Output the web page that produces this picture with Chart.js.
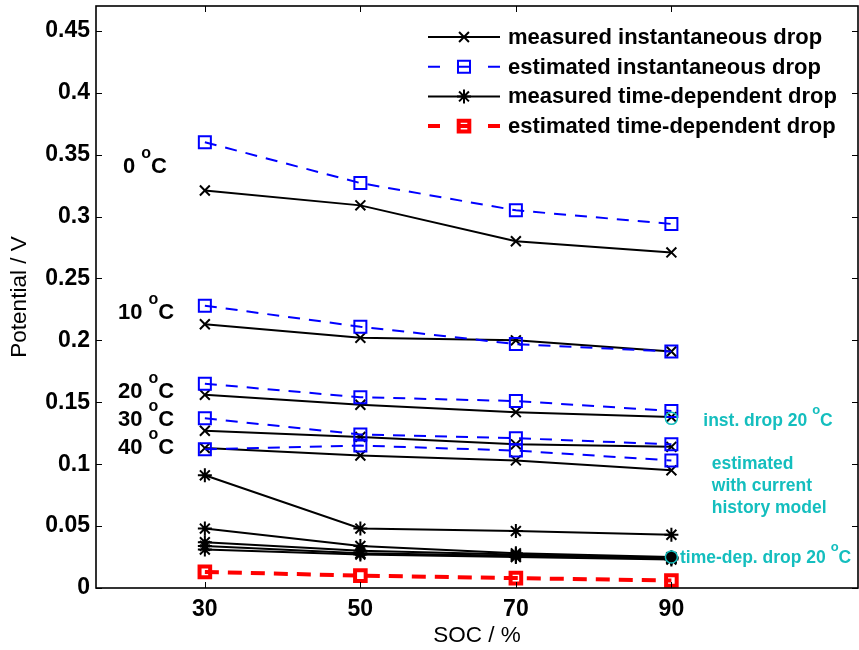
<!DOCTYPE html>
<html>
<head>
<meta charset="utf-8">
<script src="https://cdn.jsdelivr.net/npm/chart.js@4/dist/chart.umd.min.js"></script>
<style>
html,body{margin:0;padding:0;background:#fff;}
#wrap{width:859px;height:650px;}
</style>
</head>
<body>
<div id="wrap"><canvas id="c" width="859" height="650"></canvas></div>
<script>
// ---------------- data ----------------
const socValues = [30, 50, 70, 90];
const xTickLabels = ['30', '50', '70', '90'];
const yTickValues = [0, 0.05, 0.1, 0.15, 0.2, 0.25, 0.3, 0.35, 0.4, 0.45];
const yTickLabels = ['0', '0.05', '0.1', '0.15', '0.2', '0.25', '0.3', '0.35', '0.4', '0.45'];
const temperatureLabels = ['0', '10', '20', '30', '40'];

// measured instantaneous drop (V)
const measInst0  = [0.321, 0.309, 0.280, 0.271];
const measInst10 = [0.213, 0.202, 0.200, 0.191];
const measInst20 = [0.156, 0.148, 0.142, 0.138];
const measInst30 = [0.127, 0.122, 0.116, 0.114];
const measInst40 = [0.113, 0.107, 0.103, 0.095];

// estimated instantaneous drop (V)
const estInst0  = [0.360, 0.327, 0.305, 0.294];
const estInst10 = [0.228, 0.211, 0.197, 0.191];
const estInst20 = [0.165, 0.154, 0.151, 0.143];
const estInst30 = [0.137, 0.124, 0.121, 0.116];
const estInst40 = [0.112, 0.115, 0.111, 0.103];

// measured time-dependent drop (V)
const measTd0  = [0.091, 0.048, 0.046, 0.043];
const measTd10 = [0.048, 0.034, 0.028, 0.025];
const measTd20 = [0.037, 0.030, 0.027, 0.024];
const measTd30 = [0.034, 0.028, 0.026, 0.024];
const measTd40 = [0.031, 0.027, 0.025, 0.023];

// estimated time-dependent drop (V)
const estTd20 = [0.013, 0.010, 0.008, 0.006];

// highlighted points (current history model, 20 °C)
const highlightInstSoc = [90];
const highlightInstVal = [0.137];
const highlightTdSoc = [90];
const highlightTdVal = [0.025];

const legendLabels = [
  'measured instantaneous drop',
  'estimated instantaneous drop',
  'measured time-dependent drop',
  'estimated time-dependent drop'
];
const noteInst = 'inst. drop 20';
const noteModel = ['estimated', 'with current', 'history model'];
const noteTd = 'time-dep. drop 20';

// ---------------- styling ----------------
const FONT = '"Liberation Sans", Arial, Helvetica, sans-serif';
const BLUE = '#0000ff';
const RED = '#ff0000';
const CYAN = '#14bebe';
Chart.defaults.font.family = FONT;
Chart.defaults.color = '#000';

function pts(xs, ys) { return xs.map((x, i) => ({x: x, y: ys[i]})); }

const measInstStyle = {borderColor: '#000', backgroundColor: '#000', borderWidth: 2,
  pointStyle: 'crossRot', pointRadius: 7, pointBorderWidth: 2, pointBorderColor: '#000',
  pointBackgroundColor: 'rgba(0,0,0,0)', order: 4};
const estInstStyle = {borderColor: BLUE, backgroundColor: BLUE, borderWidth: 2, borderDash: [12, 9],
  pointStyle: 'rect', pointRadius: 8.5, pointBorderWidth: 2, pointBorderColor: BLUE,
  pointBackgroundColor: 'rgba(0,0,0,0)', order: 3};
const measTdStyle = {borderColor: '#000', backgroundColor: '#000', borderWidth: 2,
  pointStyle: 'star', pointRadius: 7, pointBorderWidth: 2, pointBorderColor: '#000',
  pointBackgroundColor: 'rgba(0,0,0,0)', order: 2};
const estTdStyle = {borderColor: RED, backgroundColor: RED, borderWidth: 4, borderDash: [14, 9],
  pointStyle: 'rect', pointRadius: 7.5, pointBorderWidth: 4, pointBorderColor: RED,
  pointBackgroundColor: 'rgba(0,0,0,0)', order: 1};

const datasets = [];
const groups = [
  {label: legendLabels[0], style: measInstStyle, series: [measInst0, measInst10, measInst20, measInst30, measInst40]},
  {label: legendLabels[1], style: estInstStyle, series: [estInst0, estInst10, estInst20, estInst30, estInst40]},
  {label: legendLabels[2], style: measTdStyle, series: [measTd0, measTd10, measTd20, measTd30, measTd40]},
  {label: legendLabels[3], style: estTdStyle, series: [estTd20]}
];
const legendRefs = [];
groups.forEach(g => {
  g.series.forEach((s, k) => {
    const ds = Object.assign({label: g.label + (k ? ' ' + k : ''), data: pts(socValues, s), fill: false, tension: 0}, g.style);
    if (k === 0) legendRefs.push(ds);
    datasets.push(ds);
  });
});
datasets.push({label: 'inst 20', data: pts(highlightInstSoc, highlightInstVal), showLine: false,
  pointStyle: 'circle', pointRadius: 6, pointBorderWidth: 1.5, pointBorderColor: CYAN,
  pointBackgroundColor: 'rgba(0,0,0,0)', order: 0});
datasets.push({label: 'td 20', data: pts(highlightTdSoc, highlightTdVal), showLine: false,
  pointStyle: 'circle', pointRadius: 6, pointBorderWidth: 1.5, pointBorderColor: CYAN,
  pointBackgroundColor: '#000', order: 0});

// ---------------- helpers ----------------
function drawMarker(ctx, style, x, y, r, stroke, lw) {
  ctx.save();
  ctx.setLineDash([]);
  ctx.lineWidth = lw;
  ctx.strokeStyle = stroke;
  ctx.beginPath();
  const d = r * Math.SQRT1_2;
  if (style === 'crossRot' || style === 'star') {
    ctx.moveTo(x - d, y - d); ctx.lineTo(x + d, y + d);
    ctx.moveTo(x - d, y + d); ctx.lineTo(x + d, y - d);
  }
  if (style === 'star') {
    ctx.moveTo(x, y - r); ctx.lineTo(x, y + r);
    ctx.moveTo(x - r, y); ctx.lineTo(x + r, y);
  }
  if (style === 'rect') {
    ctx.rect(x - d, y - d, 2 * d, 2 * d);
  }
  ctx.stroke();
  ctx.restore();
}

// text with superscript "o" before C  (e.g. "20 °C")
function drawDegText(ctx, text, x, y, size, weight, color) {
  ctx.save();
  ctx.fillStyle = color;
  ctx.textBaseline = 'alphabetic';
  ctx.textAlign = 'left';
  ctx.font = weight + ' ' + size + 'px ' + FONT;
  const main = text + ' ';
  ctx.fillText(main, x, y);
  let cx = x + ctx.measureText(main).width;
  const sup = Math.round(size * 0.74);
  ctx.font = weight + ' ' + sup + 'px ' + FONT;
  ctx.fillText('o', cx, y - size * 0.7);
  cx += ctx.measureText('o').width;
  ctx.font = weight + ' ' + size + 'px ' + FONT;
  ctx.fillText('C', cx, y);
  ctx.restore();
}

function zeroPad(s) { s.paddingTop = 0; s.paddingBottom = 0; s.paddingLeft = 0; s.paddingRight = 0; }

// ---------------- plugins ----------------
const framePlugin = {
  id: 'frame',
  afterDatasetsDraw(chart) {
    const {ctx, chartArea: a, scales} = chart;
    ctx.save();
    ctx.strokeStyle = '#000';
    ctx.lineWidth = 1;
    ctx.beginPath();
    const tl = 6;
    scales.x.ticks.forEach(t => {
      const px = Math.round(scales.x.getPixelForValue(t.value)) + 0.5;
      ctx.moveTo(px, a.bottom); ctx.lineTo(px, a.bottom - tl);
      ctx.moveTo(px, a.top); ctx.lineTo(px, a.top + tl);
    });
    scales.y.ticks.forEach(t => {
      const py = Math.round(scales.y.getPixelForValue(t.value)) + 0.5;
      ctx.moveTo(a.left, py); ctx.lineTo(a.left + tl, py);
      ctx.moveTo(a.right, py); ctx.lineTo(a.right - tl, py);
    });
    ctx.stroke();
    ctx.lineWidth = 1.6;
    ctx.strokeRect(a.left, a.top, a.right - a.left, a.bottom - a.top);
    ctx.restore();
  }
};

const annotationPlugin = {
  id: 'annotations',
  afterDraw(chart) {
    const {ctx, chartArea: a, scales} = chart;
    const X = v => scales.x.getPixelForValue(v);
    const Y = v => scales.y.getPixelForValue(v);

    // legend
    const lx0 = a.left + 332, lx1 = a.left + 404, lxm = (lx0 + lx1) / 2, ltx = a.left + 412;
    legendRefs.forEach((ds, i) => {
      const y = a.top + 31 + i * 29.7;
      ctx.save();
      ctx.strokeStyle = ds.borderColor;
      ctx.lineWidth = ds.borderWidth;
      ctx.beginPath();
      if (ds.borderDash) {
        ctx.moveTo(lx0, y); ctx.lineTo(lx0 + 12, y);
        ctx.moveTo(lx1 - 12, y); ctx.lineTo(lx1, y);
        ctx.moveTo(lxm - 6, y); ctx.lineTo(lxm + 6, y);
      } else {
        ctx.moveTo(lx0, y); ctx.lineTo(lx1, y);
      }
      ctx.stroke();
      ctx.restore();
      drawMarker(ctx, ds.pointStyle, lxm, y, ds.pointRadius, ds.pointBorderColor, ds.pointBorderWidth);
      ctx.save();
      ctx.fillStyle = '#000';
      ctx.font = 'bold 22px ' + FONT;
      ctx.textBaseline = 'middle';
      ctx.fillText(legendLabels[i], ltx, y + 1);
      ctx.restore();
    });

    // temperature labels at the left
    const tempLabelVals = [0.335, 0.217, 0.1534, 0.1308, 0.1082];
    temperatureLabels.forEach((t, i) => {
      const x = t.length > 1 ? X(16) + 22 : X(16) + 27;
      drawDegText(ctx, t, x, Y(tempLabelVals[i]), 22, 'bold', '#000');
    });

    // cyan notes
    drawDegText(ctx, noteInst, X(94.1), Y(0.1308), 17.5, 'bold', CYAN);
    ctx.save();
    ctx.fillStyle = CYAN;
    ctx.font = 'bold 17.5px ' + FONT;
    ctx.textBaseline = 'alphabetic';
    noteModel.forEach((s, i) => ctx.fillText(s, X(95.2), Y(0.0961) + i * 22));
    ctx.restore();
    drawDegText(ctx, noteTd, X(91.1), Y(0.0202), 17.5, 'bold', CYAN);
  }
};

// ---------------- chart ----------------
new Chart(document.getElementById('c'), {
  type: 'line',
  data: {datasets: datasets},
  options: {
    responsive: false,
    devicePixelRatio: 1,
    animation: false,
    events: [],
    layout: {autoPadding: false, padding: {top: 6, right: 1, left: 0, bottom: 0}},
    plugins: {legend: {display: false}, tooltip: {enabled: false}},
    scales: {
      x: {
        type: 'linear', min: 16, max: 114,
        afterBuildTicks: s => { s.ticks = socValues.map(v => ({value: v})); },
        afterFit: s => { s.height = 62; zeroPad(s); },
        ticks: {
          callback: (v, i) => xTickLabels[i],
          font: {size: 23, weight: 'bold'}, color: '#000', padding: 8, maxRotation: 0, autoSkip: false
        },
        grid: {display: false, drawTicks: false},
        border: {display: false},
        title: {display: true, text: 'SOC / %', font: {size: 22.5}, color: '#000', padding: {top: 0, bottom: 1}}
      },
      y: {
        type: 'linear', min: 0, max: 0.47,
        afterBuildTicks: s => { s.ticks = yTickValues.map(v => ({value: v})); },
        afterFit: s => { s.width = 96; zeroPad(s); },
        ticks: {
          callback: (v, i) => yTickLabels[i],
          font: {size: 23, weight: 'bold'}, color: '#000', padding: 6, autoSkip: false
        },
        grid: {display: false, drawTicks: false},
        border: {display: false},
        title: {display: true, text: 'Potential / V', font: {size: 22.5}, color: '#000', padding: {top: 6, bottom: 0}}
      }
    }
  },
  plugins: [framePlugin, annotationPlugin]
});
</script>
</body>
</html>
